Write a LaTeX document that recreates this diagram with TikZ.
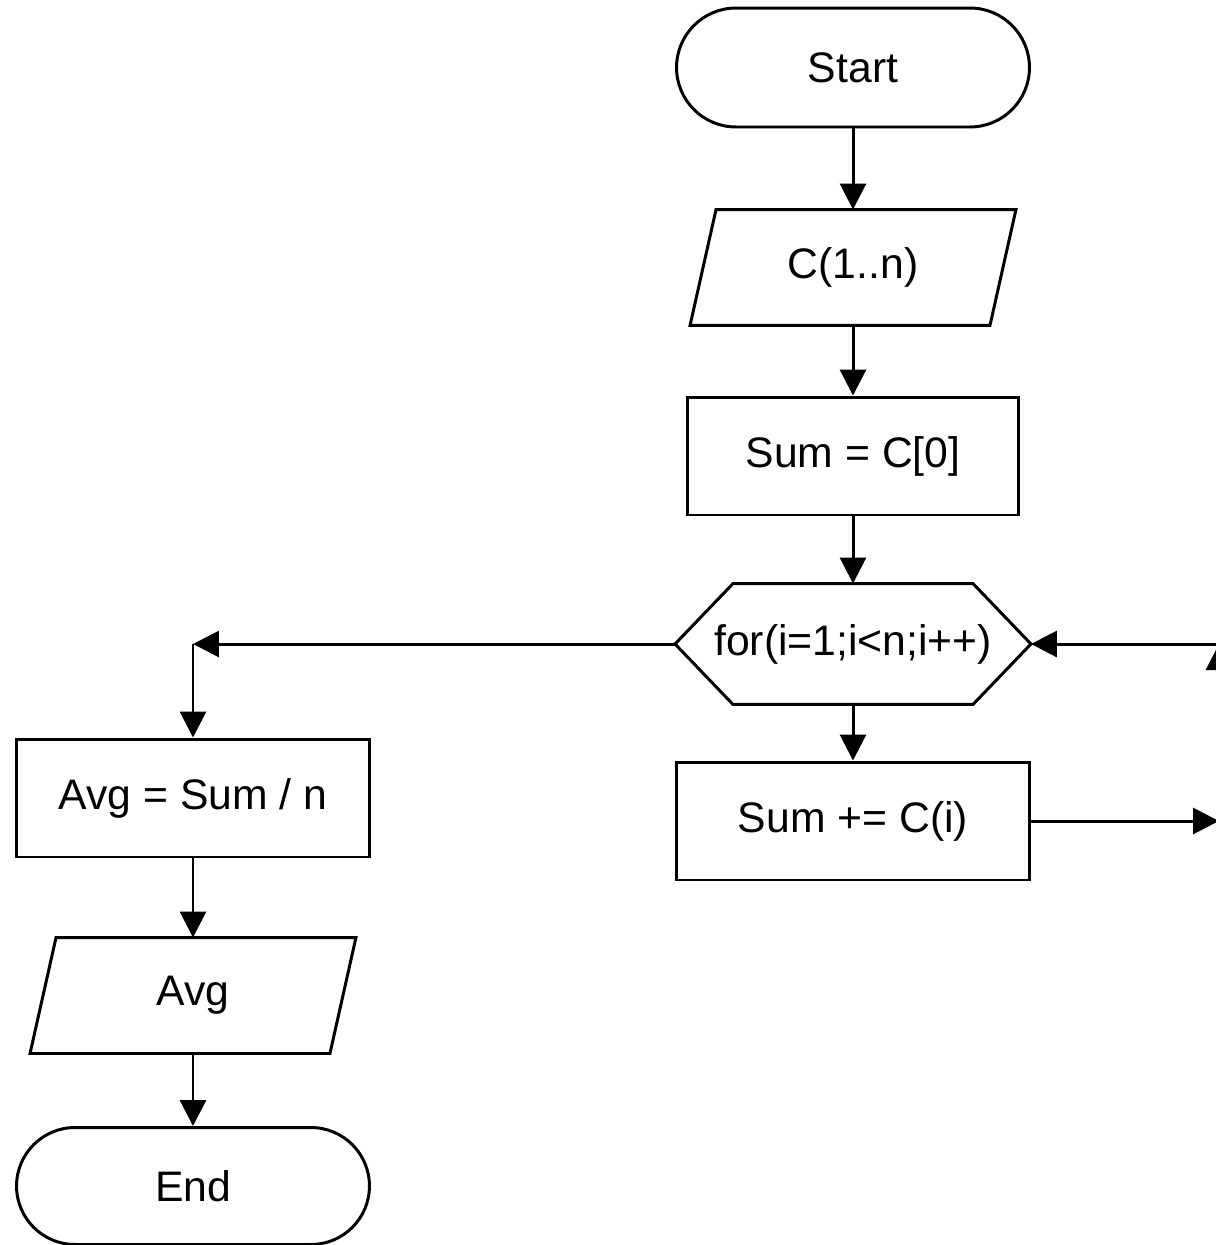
\documentclass[tikz,border=0pt]{standalone}
\usepackage{fontspec}
\setmainfont{Liberation Sans}
\usetikzlibrary{arrows.meta,calc}
\begin{document}
\begin{tikzpicture}[x=0.02cm,y=-0.02cm,
  line width=1.7pt, line join=miter,
  box/.style={draw=none, inner sep=0pt, font=\fontsize{24.3}{29}\selectfont, text=black},
  shapeline/.style={draw=black, line width=1.7pt},
  arr/.style={draw=black, line width=1.7pt, -{Triangle[length=0.52cm,width=0.52cm]}}]
\useasboundingbox (0,0) rectangle (1216,1245);
\clip (0,0) rectangle (1216,1245);

% nodes
\node[box, draw=black, line width=1.7pt, rounded corners=1.19cm, minimum width=7.06cm, minimum height=2.38cm] (start) at (853,67.5) {Start};
\node[box, minimum width=6.46cm, minimum height=2.26cm] (in) at (853,267.5) {C(1..n)};
\node[box, draw=black, line width=1.7pt, minimum width=6.64cm, minimum height=2.36cm] (init) at (853,456) {Sum = C[0]};
\node[box, minimum width=7.06cm, minimum height=2.36cm] (loop) at (853,644) {for(i=1;i<n;i++)};
\node[box, draw=black, line width=1.7pt, minimum width=7.08cm, minimum height=2.36cm] (body) at (853,821) {Sum += C(i)};
\node[box, draw=black, line width=1.7pt, minimum width=7.06cm, minimum height=2.36cm] (avg) at (193,798) {Avg = Sum / n};
\node[box, minimum width=6.46cm, minimum height=2.26cm] (out) at (193,995.5) {Avg};
\node[box, draw=black, line width=1.7pt, rounded corners=1.17cm, minimum width=7.06cm, minimum height=2.34cm] (end) at (193,1186) {End};

% custom shapes
\draw[shapeline] ($(in.north west)+(26,0)$) -- (in.north east) -- ($(in.south east)+(-26,0)$) -- (in.south west) -- cycle;
\draw[shapeline] ($(out.north west)+(26,0)$) -- (out.north east) -- ($(out.south east)+(-26,0)$) -- (out.south west) -- cycle;
\draw[shapeline] (loop.west) -- ($(loop.north west)+(58,0)$) -- ($(loop.north east)+(-58,0)$) -- (loop.east) -- ($(loop.south east)+(-58,0)$) -- ($(loop.south west)+(58,0)$) -- cycle;

% helper coordinates
\coordinate (corner) at (193,644);
\coordinate (rb) at (1219,821);
\coordinate (rt) at (1219,644);

% connectors
\draw[arr] (start.south) -- (in.north);
\draw[arr] (in.south) -- (init.north);
\draw[arr] (init.south) -- (loop.north);
\draw[arr] (loop.south) -- (body.north);
\draw[arr] (loop.west) -- (corner);
\draw[arr] (corner) -- (avg.north);
\draw[arr] (avg.south) -- (out.north);
\draw[arr] (out.south) -- (end.north);
\draw[arr] (body.east) -- (rb);
\draw[arr] (rb) -- (rt);
\draw[arr] (rt) -- (loop.east);
\end{tikzpicture}
\end{document}
